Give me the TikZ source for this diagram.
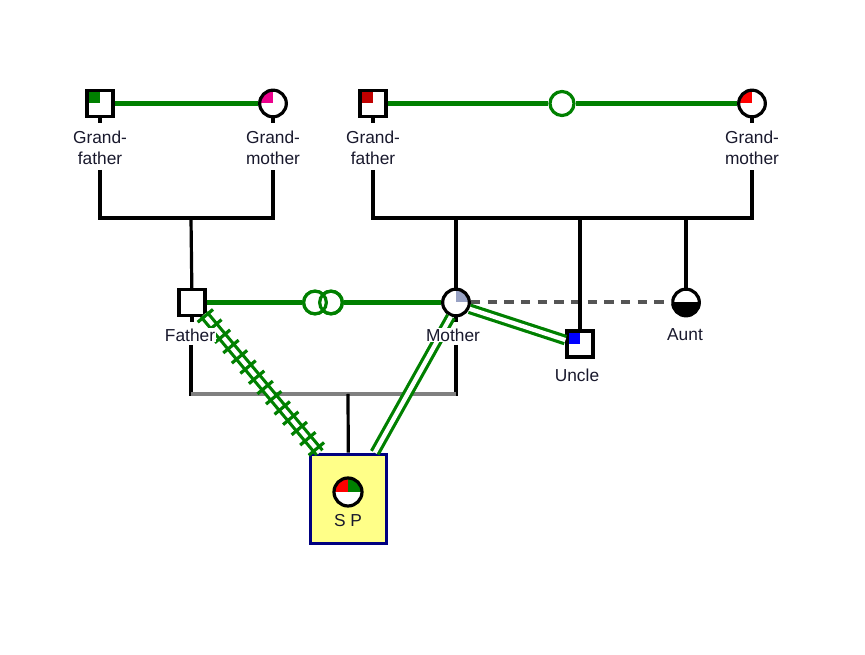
\documentclass[tikz,border=0pt]{standalone}
\usepackage{fontspec}
\setmainfont{Liberation Sans}
\usetikzlibrary{decorations.pathreplacing}
\definecolor{gline}{RGB}{0,128,0}
\definecolor{dred}{RGB}{192,0,0}
\definecolor{mgrey}{RGB}{152,162,196}
\definecolor{boxy}{RGB}{255,255,136}
\definecolor{navyb}{RGB}{0,0,128}
\definecolor{labc}{RGB}{25,25,45}
\definecolor{dashc}{RGB}{85,85,85}
\begin{document}
\begin{tikzpicture}[x=0.75pt,y=-0.75pt,
  sq/.style={draw=black, line width=2.4pt, fill=white, rectangle, minimum size=19.5pt, inner sep=0pt},
  ci/.style={draw=black, line width=2.4pt, fill=white, circle, minimum size=20pt, inner sep=0pt},
  qtl/.style={path picture={\fill[#1] (path picture bounding box.north west) rectangle (path picture bounding box.center);}},
  qtr/.style={path picture={\fill[#1] (path picture bounding box.north east) rectangle (path picture bounding box.center);}},
  hbot/.style={path picture={\fill[#1] (path picture bounding box.south west) rectangle (path picture bounding box.east);}},
  lbl/.style={font=\fontsize{13}{15.5}\selectfont, align=center, inner sep=0.5pt, fill=white, text=labc},
  blk/.style={draw=black, line width=2.4pt},
  grn/.style={draw=gline, line width=3.1pt},
  ring/.style={draw=gline, line width=2.4pt, fill=white, circle, minimum size=17pt, inner sep=0pt},
  dbl/.style={draw=gline, line width=2.4pt, double=white, double distance=3.2pt},
  hatchticks/.style={draw=gline, line width=2.4pt, decorate, decoration={ticks, segment length=10pt, amplitude=7.5pt}}
]
\useasboundingbox (0,0) rectangle (865,655);

% grandparents (paternal)
\node[sq, qtl=gline] (gf1) at (100,103.5) {};
\node[ci, qtl=magenta] (gm1) at (273,103.5) {};

% grandparents (maternal)
\node[sq, qtl=dred] (gf2) at (373,103.5) {};
\node[ci, qtl=red] (gm2) at (752,103.5) {};
\node[ring, minimum size=18pt] (r0) at (562,103.5) {};

% parents generation
\node[sq] (father) at (192,302.5) {};
\node[ci, qtr=mgrey] (mother) at (456,302.5) {};
\node[ci, hbot=black] (aunt) at (686,302.5) {};
\node[sq, qtl=blue] (uncle) at (580,344) {};
\node[ring] (r1) at (315,302.5) {};
\node[ring] (r2) at (331,302.5) {};

% SP
\node[draw=navyb, line width=2.4pt, fill=boxy, minimum width=57pt, minimum height=67pt, inner sep=0pt] (spbox) at (348.5,499) {};
\node[ci, minimum size=21pt, path picture={\fill[red] (path picture bounding box.north west) rectangle (path picture bounding box.center);\fill[gline] (path picture bounding box.north east) rectangle (path picture bounding box.center);}] (sp) at (348,492) {};

% coordinates for family lines
\coordinate (gf1b) at (100,170);
\coordinate (gm1b) at (273,170);
\coordinate (f1) at (191,218);
\coordinate (gf2b) at (373,170);
\coordinate (gm2b) at (752,170);
\coordinate (f2m) at (456,218);
\coordinate (f2u) at (580,218);
\coordinate (f2a) at (686,218);
\coordinate (fab) at (191,345);
\coordinate (mob) at (456,345);
\coordinate (f3) at (348,394);

% couple lines
\draw[grn] (gf1) -- (gm1);
\draw[grn] (gf2) -- (r0) -- (gm2);
\draw[grn] (father) -- (r1);
\draw[grn] (r2) -- (mother);
\node[ring] at (r1) {};
\draw[gline, line width=2.4pt] (r2) circle (8.5pt);
\draw[dashc, line width=3pt, dash pattern=on 7pt off 5.5pt] (mother) -- (aunt);

% stubs
\foreach \n in {gf1,gm1,gf2,gm2,father,mother}
  \draw[blk] (\n.south) -- ++(0,5);

% family lines
\draw[blk] (gf1b) |- (f1) -| (gm1b);
\draw[blk] (f1) -- (father);
\draw[blk] (gf2b) |- (f2m) -- (f2u) -- (f2a) -| (gm2b);
\draw[blk] (f2m) -- (mother);
\draw[blk] (f2u) -- (uncle);
\draw[blk] (f2a) -- (aunt);
\draw[blk] (fab) |- (f3);
\draw[blk] (mob) |- (f3);
\draw[draw=gray, line width=2.8pt] (fab |- f3) -- (mob |- f3);
\draw[blk] (f3) -- (spbox);

% emotional relationship lines
\draw[dbl] (mother.-25) -- (uncle.165);
\draw[dbl] (mother.250) -- ([xshift=-10pt]spbox.north east);
\draw[dbl] ([xshift=9pt,yshift=-9pt]father.center) -- ([xshift=8pt]spbox.north west);
\draw[hatchticks] ([xshift=10pt,yshift=-10pt]father.center) -- ([xshift=8pt]spbox.north west);

% labels
\node[lbl] (gf1l) at (100,148) {Grand-\\father};
\node[lbl] (gm1l) at (273,148) {Grand-\\mother};
\node[lbl] (gf2l) at (373,148) {Grand-\\father};
\node[lbl] (gm2l) at (752,148) {Grand-\\mother};
\node[lbl] (fatherl) at (190,335) {Father};
\node[lbl] (motherl) at (453,335) {Mother};
\node[lbl] (auntl) at (685,335) {Aunt};
\node[lbl] (unclel) at (577,375) {Uncle};
\node[lbl, fill=none] (spl) at (348,521) {S P};
\end{tikzpicture}
\end{document}
